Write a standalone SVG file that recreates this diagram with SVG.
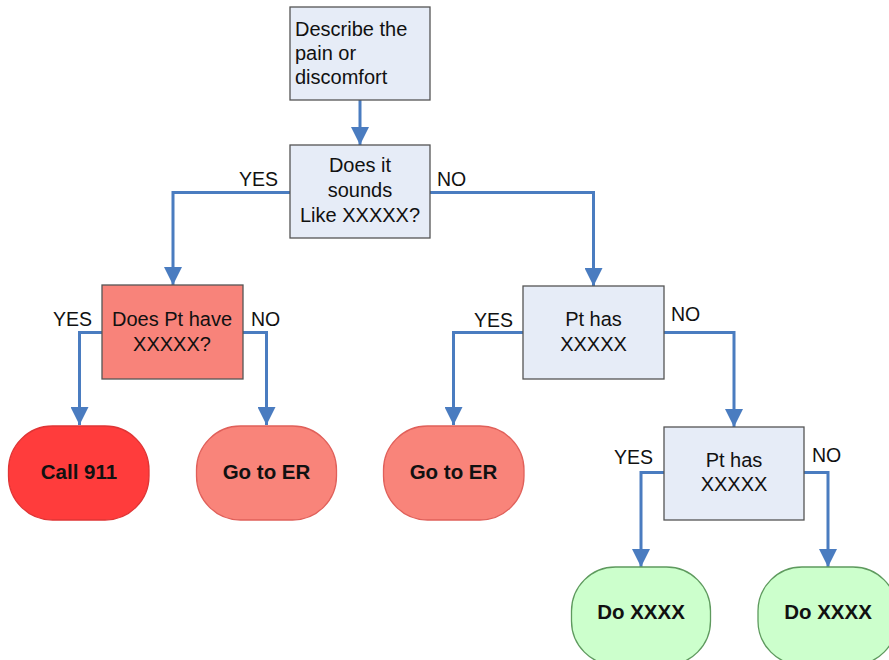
<svg xmlns="http://www.w3.org/2000/svg" width="889" height="660" viewBox="0 0 889 660">
  <defs>
    <marker id="arrow" viewBox="0 0 18 18" refX="18" refY="9" markerWidth="18" markerHeight="18" markerUnits="userSpaceOnUse" orient="auto">
      <path d="M0,0 L18,9 L0,18 Z" fill="#4a7cc0"/>
    </marker>
    <style>
      .box { fill: #e6ecf7; stroke: #555; stroke-width: 1.3; }
      .boxred { fill: #f8837a; stroke: #555; stroke-width: 1.3; }
      .term-red { fill: #ff3c3c; stroke: #e03535; stroke-width: 1.3; }
      .term-salmon { fill: #f9847a; stroke: #e0605a; stroke-width: 1.3; }
      .term-green { fill: #ccffcc; stroke: #5e9a5e; stroke-width: 1.3; }
      .txt { font-family: "Liberation Sans", Arial, sans-serif; font-size: 20px; fill: #111; }
      .mid { text-anchor: middle; }
      .bold { font-weight: bold; font-size: 20.5px; }
      .lbl { font-family: "Liberation Sans", Arial, sans-serif; font-size: 19.5px; fill: #111; }
      .conn { fill: none; stroke: #4a7cc0; stroke-width: 3; marker-end: url(#arrow); }
    </style>
  </defs>

  <g id="connectors">
    <path class="conn" d="M360,100 V145"/>
    <path class="conn" d="M290,192.5 H173 V285"/>
    <path class="conn" d="M430,192.5 H593.5 V286"/>
    <path class="conn" d="M102,332.5 H79.5 V425"/>
    <path class="conn" d="M243,332.5 H266.5 V425"/>
    <path class="conn" d="M523,332.5 H453.5 V425"/>
    <path class="conn" d="M664,332.5 H734 V427"/>
    <path class="conn" d="M664,472.5 H641 V567"/>
    <path class="conn" d="M804,472.5 H828 V567"/>
  </g>

  <g id="labels">
    <text class="lbl" x="278" y="186" text-anchor="end">YES</text>
    <text class="lbl" x="437" y="186">NO</text>
    <text class="lbl" x="92" y="326" text-anchor="end">YES</text>
    <text class="lbl" x="251" y="326">NO</text>
    <text class="lbl" x="513" y="327" text-anchor="end">YES</text>
    <text class="lbl" x="671" y="321">NO</text>
    <text class="lbl" x="653" y="464" text-anchor="end">YES</text>
    <text class="lbl" x="812" y="462">NO</text>
  </g>

  <g id="describe">
    <rect class="box" x="290" y="7" width="140" height="93"/>
    <text class="txt" x="295" y="36">Describe the</text>
    <text class="txt" x="295" y="60">pain or</text>
    <text class="txt" x="295" y="84">discomfort</text>
  </g>

  <g id="sounds-like">
    <rect class="box" x="290" y="145" width="140" height="93"/>
    <text class="txt mid" x="360" y="172">Does it</text>
    <text class="txt mid" x="360" y="197">sounds</text>
    <text class="txt mid" x="360" y="222">Like XXXXX?</text>
  </g>

  <g id="pt-have">
    <rect class="boxred" x="102" y="285" width="141" height="94"/>
    <text class="txt mid" x="172" y="326">Does Pt have</text>
    <text class="txt mid" x="172" y="351">XXXXX?</text>
  </g>

  <g id="pt-has-1">
    <rect class="box" x="523" y="286" width="141" height="93"/>
    <text class="txt mid" x="593.5" y="326">Pt has</text>
    <text class="txt mid" x="593.5" y="351">XXXXX</text>
  </g>

  <g id="pt-has-2">
    <rect class="box" x="664" y="427" width="140" height="93"/>
    <text class="txt mid" x="734" y="467">Pt has</text>
    <text class="txt mid" x="734" y="491">XXXXX</text>
  </g>

  <g id="call-911">
    <rect class="term-red" x="8.5" y="426" width="140.5" height="94" rx="44" ry="44"/>
    <text class="txt mid bold" x="79" y="479">Call 911</text>
  </g>

  <g id="go-er-1">
    <rect class="term-salmon" x="196.5" y="426" width="140" height="94" rx="44" ry="44"/>
    <text class="txt mid bold" x="266.5" y="479">Go to ER</text>
  </g>

  <g id="go-er-2">
    <rect class="term-salmon" x="383.5" y="426" width="140.5" height="94" rx="44" ry="44"/>
    <text class="txt mid bold" x="453.5" y="479">Go to ER</text>
  </g>

  <g id="do-1">
    <rect class="term-green" x="571.5" y="567" width="139" height="98" rx="44" ry="44"/>
    <text class="txt mid bold" x="641" y="619">Do XXXX</text>
  </g>

  <g id="do-2">
    <rect class="term-green" x="758" y="567" width="139" height="98" rx="44" ry="44"/>
    <text class="txt mid bold" x="828" y="619">Do XXXX</text>
  </g>
</svg>
